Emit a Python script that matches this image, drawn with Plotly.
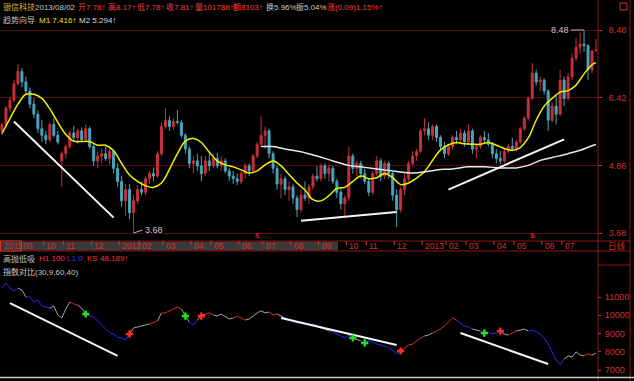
import math
import plotly.graph_objects as go

W, H = 634, 381
def px(x): return x / W
def py(y): return 1 - y / H

# ---------------- data ----------------
opens = [5.60, 5.75, 6.15, 6.35, 6.80, 7.15, 6.85, 6.60, 6.25, 6.00,
         5.65, 5.50, 5.40, 5.75, 5.50, 4.95, 5.10, 5.25, 5.55, 5.45,
         5.60, 5.40, 5.65, 5.25, 4.95, 5.05, 5.10, 5.00, 5.15, 4.80,
         4.55, 4.20, 4.40, 4.00, 4.20, 4.40, 4.35, 4.60, 4.70, 4.65,
         5.10, 5.70, 5.85, 5.70, 5.82, 5.80, 5.50, 5.20, 4.90, 4.95,
         4.85, 4.70, 4.95, 4.85, 5.00, 4.85, 4.95, 4.75, 4.65, 4.60,
         4.55, 4.70, 4.85, 4.75, 5.05, 5.30, 5.50, 5.60, 5.10, 4.80,
         4.50, 4.60, 4.40, 4.45, 4.25, 4.05, 4.30, 4.25, 4.45, 4.65,
         4.60, 4.85, 4.70, 4.80, 4.55, 4.35, 4.15, 4.25, 5.05, 4.80,
         4.90, 4.70, 4.55, 4.35, 4.70, 4.95, 4.65, 4.90, 4.70, 4.30,
         4.05, 4.40, 4.60, 4.90, 5.05, 5.15, 5.60, 5.65, 5.50, 5.70,
         5.45, 5.25, 5.10, 5.25, 5.45, 5.40, 5.55, 5.35, 5.60, 5.20,
         5.25, 5.45, 5.40, 5.30, 5.10, 5.00, 4.95, 5.15, 5.25, 5.20,
         5.35, 5.65, 5.90, 6.40, 7.10, 6.85, 6.90, 6.60, 5.85, 6.20,
         6.00, 6.90, 6.40, 7.00, 7.55, 7.90, 8.00, 7.95, 7.20, 7.78]
highs = [5.80, 6.20, 6.45, 6.90, 7.38, 7.25, 7.00, 6.70, 6.40, 6.10,
         5.85, 5.60, 5.80, 5.90, 5.60, 5.15, 5.30, 5.60, 5.72, 5.65,
         5.68, 5.75, 5.70, 5.30, 5.15, 5.20, 5.25, 5.20, 5.18, 4.90,
         4.65, 4.50, 4.50, 4.30, 4.48, 4.55, 4.65, 4.75, 4.82, 5.15,
         5.80, 6.15, 5.95, 5.90, 6.10, 5.85, 5.55, 5.25, 5.05, 5.10,
         5.05, 5.05, 5.10, 5.10, 5.12, 5.05, 5.00, 4.80, 4.75, 4.70,
         4.75, 4.90, 4.90, 5.10, 5.35, 5.95, 5.70, 5.65, 5.15, 4.85,
         4.70, 4.65, 4.55, 4.50, 4.30, 4.40, 4.55, 4.50, 4.70, 4.85,
         4.90, 4.90, 4.88, 4.85, 4.60, 4.45, 4.30, 5.25, 5.10, 4.95,
         4.95, 4.80, 4.60, 4.75, 5.05, 5.00, 4.95, 4.95, 4.75, 4.40,
         4.45, 4.70, 4.95, 5.15, 5.20, 5.65, 5.90, 5.80, 5.75, 5.75,
         5.50, 5.35, 5.30, 5.50, 5.60, 5.65, 5.62, 5.75, 5.65, 5.30,
         5.50, 5.60, 5.55, 5.35, 5.20, 5.15, 5.20, 5.30, 5.45, 5.40,
         5.70, 5.95, 6.45, 7.40, 7.20, 7.00, 6.95, 6.65, 6.30, 6.50,
         7.20, 7.00, 7.10, 7.70, 8.20, 8.40, 8.48, 8.00, 7.80, 8.17]
lows = [5.50, 5.70, 6.05, 6.30, 6.75, 6.70, 6.50, 6.15, 5.90, 5.55,
        5.35, 5.30, 5.35, 5.45, 5.30, 4.45, 5.00, 5.20, 5.35, 5.30,
        5.35, 5.38, 5.20, 4.85, 4.80, 4.90, 4.95, 4.88, 4.70, 4.45,
        4.10, 3.95, 3.90, 3.68, 4.15, 4.30, 4.30, 4.50, 4.55, 4.62,
        5.05, 5.65, 5.60, 5.62, 5.75, 5.45, 5.10, 4.80, 4.70, 4.75,
        4.55, 4.65, 4.75, 4.80, 4.80, 4.75, 4.70, 4.55, 4.50, 4.48,
        4.50, 4.60, 4.65, 4.72, 5.00, 5.25, 5.20, 5.00, 4.70, 4.40,
        4.25, 4.30, 4.20, 4.15, 3.93, 4.00, 4.20, 4.15, 4.40, 4.55,
        4.55, 4.60, 4.55, 4.50, 4.25, 4.05, 3.95, 4.20, 4.70, 4.65,
        4.60, 4.50, 4.28, 4.30, 4.65, 4.55, 4.60, 4.60, 4.20, 3.77,
        4.00, 4.30, 4.55, 4.85, 4.95, 5.10, 5.50, 5.40, 5.40, 5.35,
        5.15, 5.00, 5.05, 5.20, 5.30, 5.35, 5.25, 5.30, 5.10, 5.00,
        5.20, 5.30, 5.25, 5.00, 4.90, 4.88, 4.90, 5.10, 5.15, 5.15,
        5.30, 5.60, 5.85, 6.35, 6.75, 6.60, 6.50, 5.60, 5.80, 5.75,
        5.95, 6.20, 6.35, 6.90, 7.45, 7.70, 7.75, 6.90, 7.10, 7.78]
closes = [5.75, 6.15, 6.35, 6.80, 7.15, 6.85, 6.60, 6.25, 6.00, 5.65,
          5.50, 5.40, 5.75, 5.50, 5.35, 5.10, 5.25, 5.55, 5.45, 5.60,
          5.40, 5.65, 5.25, 4.95, 5.05, 5.10, 5.00, 5.15, 4.80, 4.55,
          4.20, 4.40, 4.00, 4.20, 4.40, 4.35, 4.60, 4.70, 4.65, 5.10,
          5.70, 5.85, 5.70, 5.82, 5.80, 5.50, 5.20, 4.90, 4.95, 4.85,
          4.70, 4.95, 4.85, 5.00, 4.85, 4.95, 4.75, 4.65, 4.60, 4.55,
          4.70, 4.85, 4.75, 5.05, 5.30, 5.50, 5.60, 5.10, 4.80, 4.50,
          4.60, 4.40, 4.45, 4.25, 4.05, 4.30, 4.25, 4.45, 4.65, 4.60,
          4.85, 4.70, 4.80, 4.55, 4.35, 4.15, 4.25, 5.05, 4.80, 4.90,
          4.70, 4.55, 4.35, 4.70, 4.95, 4.65, 4.90, 4.70, 4.30, 4.05,
          4.40, 4.60, 4.90, 5.05, 5.15, 5.60, 5.65, 5.50, 5.70, 5.45,
          5.25, 5.10, 5.25, 5.45, 5.40, 5.55, 5.35, 5.60, 5.20, 5.25,
          5.45, 5.40, 5.30, 5.10, 5.00, 4.95, 5.15, 5.25, 5.20, 5.35,
          5.65, 5.90, 6.40, 7.10, 6.85, 6.90, 6.60, 5.85, 6.20, 6.00,
          6.90, 6.40, 7.00, 7.55, 7.90, 8.00, 7.95, 7.20, 7.78, 7.81]
bars = list(range(len(closes)))

m1_idx = [0, 2, 4, 6, 8, 10, 12, 14, 16, 18, 20, 22, 24, 26, 28, 30, 32, 34, 36, 38,
          40, 42, 44, 46, 48, 50, 52, 54, 56, 58, 60, 62, 64, 66, 68, 70, 72, 74, 76, 78,
          80, 82, 84, 86, 88, 90, 92, 94, 96, 98, 100, 102, 104, 106, 108, 110, 112, 114,
          116, 118, 120, 122, 124, 126, 128, 130, 132, 134, 136, 138, 140, 142, 144, 146, 148, 149]
m1_val = [5.54, 5.89, 6.25, 6.51, 6.51, 6.40, 6.13, 5.80, 5.52, 5.37, 5.36, 5.36, 5.28, 5.28, 5.16,
          4.90, 4.67, 4.55, 4.47, 4.44, 4.52, 4.78, 5.10, 5.37, 5.43, 5.34, 5.13, 4.95, 4.87, 4.83,
          4.77, 4.71, 4.75, 4.87, 4.95, 4.85, 4.68, 4.52, 4.39, 4.22, 4.20, 4.29, 4.42, 4.44, 4.55,
          4.65, 4.60, 4.62, 4.70, 4.62, 4.49, 4.52, 4.61, 4.74, 4.96, 5.18, 5.29, 5.34, 5.31, 5.30,
          5.30, 5.34, 5.28, 5.21, 5.17, 5.23, 5.44, 5.85, 6.20, 6.40, 6.57, 6.61, 6.76, 7.08, 7.35, 7.416]
m2_idx = [65, 68, 71, 75, 79, 83, 87, 91, 95, 99, 103, 106, 109, 113, 117, 121, 125, 129,
          132, 135, 138, 142, 145, 148, 149]
m2_val = [5.25, 5.25, 5.20, 5.14, 5.05, 4.95, 4.86, 4.82, 4.78, 4.74, 4.71, 4.73, 4.77, 4.79,
          4.83, 4.83, 4.81, 4.81, 4.86, 4.96, 5.02, 5.10, 5.17, 5.27, 5.294]

trend_main = [([3, 28], [5.82, 3.92]), ([75, 99], [3.87, 4.01]), ([112, 141], [4.40, 5.41])]

price_ticks = [3.68, 4.86, 6.42, 8.48]

month_starts = [5, 11, 16, 23, 30, 35, 41, 48, 53, 60, 66, 73, 80, 87, 92, 99, 106, 112, 117,
                124, 129, 136, 141]
month_labels = ["09", "10", "11", "12", "2012", "02", "03", "04", "05", "06", "07", "08",
                "09", "10", "11", "12", "2013", "02", "03", "04", "05", "06", "07"]
event_bars = [64, 133]

lower_vals = [11490, 11765, 11490, 11330, 11490, 11380, 11000, 11000, 10730, 10840,
              10510, 10450, 10400, 10510, 10020, 9850, 10340, 10730, 10620, 10560,
              10400, 10070, 9960, 9910, 9690, 9470, 9250, 9030, 8980, 8810,
              8760, 8650, 8980, 9310, 9360, 9420, 9470, 9530, 9630, 9690,
              10130, 10130, 10240, 10340, 10450, 10340, 9960, 9630, 9470, 9740,
              9960, 10070, 10130, 10020, 9960, 10070, 9910, 9800, 9850, 9960,
              9850, 9740, 9800, 9960, 10130, 10240, 10130, 10180, 10020, 10070,
              9960, 9850, 9800, 9690, 9580, 9630, 9530, 9470, 9530, 9420,
              9310, 9250, 9140, 9090, 8980, 8870, 8760, 8920, 8760, 8700,
              8600, 8490, 8600, 8540, 8430, 8380, 8320, 8210, 8100, 7890,
              8050, 8210, 8380, 8430, 8600, 8760, 8870, 8920, 9030, 9140,
              9250, 9420, 9630, 9850, 9740, 9580, 9420, 9360, 9250, 9200,
              9140, 9030, 9090, 8980, 9030, 9140, 8980, 8920, 9030, 9140,
              9200, 9250, 9140, 9200, 9090, 8980, 8760, 8430, 8000, 7560,
              7290, 7610, 7780, 7720, 8000, 7830, 7780, 7890, 7830, 7940]
lower_runs = [(0, 'b'), (4, 'g'), (6, 'b'), (12, 'g'), (17, 'r'), (19, 'g'), (21, 'b'), (32, 'g'),
              (37, 'r'), (39, 'g'), (40, 'r'), (45, 'g'), (47, 'b'), (49, 'g'), (51, 'r'), (53, 'g'),
              (58, 'r'), (61, 'g'), (67, 'r'), (69, 'g'), (71, 'b'), (80, 'g'), (82, 'b'), (88, 'g'),
              (90, 'b'), (100, 'r'), (106, 'g'), (108, 'r'), (114, 'b'), (118, 'g'), (120, 'b'),
              (125, 'g'), (127, 'r'), (129, 'g'), (132, 'b'), (141, 'g'), (146, 'r'), (148, 'g')]
buy_marks = [21, 46, 88, 91, 121]
sell_marks = [32, 50, 100, 125]
trend_low = [([2, 29], [10670, 7780]), ([70, 99], [9850, 8380]), ([115, 137], [9030, 7340])]
lower_ticks = [7000, 8000, 9000, 10000, 11000]

# ---------------- styling ----------------
F = "Liberation Sans, Noto Sans CJK SC, sans-serif"
RED = "#d23232"
GRID = "#560a0a"
BORDER = "#8c1414"
UP = "#c8303a"
DN = "#48a6ba"
LOWC = {'b': '#2a2aff', 'g': '#a6a6a6', 'r': '#e02828'}

x_dom = [0, px(597)]
xr = [-0.5, 149.25]
ppl = (233 - 30) / (math.log10(8.48) - math.log10(3.68))
main_top, main_bot = 24, 238
y_rng = [math.log10(3.68) - (main_bot - 233) / ppl, math.log10(8.48) + (30 - main_top) / ppl]
low_top, low_bot = 268, 376
lo_rng = [11000 - (low_bot - 297) / 18.3 * 1000, 11000 + (297 - low_top) / 18.3 * 1000]

fig = go.Figure()
fig.add_trace(go.Candlestick(
    x=bars, open=opens, high=highs, low=lows, close=closes,
    increasing=dict(line=dict(color=UP, width=1), fillcolor=UP),
    decreasing=dict(line=dict(color=DN, width=1), fillcolor=DN),
    whiskerwidth=0, showlegend=False, hoverinfo='skip', xaxis='x', yaxis='y'))
fig.add_trace(go.Scatter(x=m1_idx, y=m1_val, mode='lines', line=dict(color='#f0f000', width=1.5, shape='spline'),
                         showlegend=False, hoverinfo='skip', xaxis='x', yaxis='y'))
fig.add_trace(go.Scatter(x=m2_idx, y=m2_val, mode='lines', line=dict(color='#e8e8e8', width=1.5, shape='spline'),
                         showlegend=False, hoverinfo='skip', xaxis='x', yaxis='y'))
for tx, ty in trend_main:
    fig.add_trace(go.Scatter(x=tx, y=ty, mode='lines', line=dict(color='#f4f4f4', width=2),
                             showlegend=False, hoverinfo='skip', xaxis='x', yaxis='y'))

n = len(lower_vals)
for k, (s, c) in enumerate(lower_runs):
    e = lower_runs[k + 1][0] if k + 1 < len(lower_runs) else n - 1
    xs = list(range(s, e + 1))
    fig.add_trace(go.Scatter(x=xs, y=[lower_vals[i] for i in xs], mode='lines',
                             line=dict(color=LOWC[c], width=1), showlegend=False, hoverinfo='skip',
                             xaxis='x2', yaxis='y2'))
for tx, ty in trend_low:
    fig.add_trace(go.Scatter(x=tx, y=ty, mode='lines', line=dict(color='#f4f4f4', width=2),
                             showlegend=False, hoverinfo='skip', xaxis='x2', yaxis='y2'))
fig.add_trace(go.Scatter(x=buy_marks, y=[lower_vals[i] for i in buy_marks], mode='markers',
                         marker=dict(symbol='cross', size=6, color='#22e022', line=dict(width=0)),
                         showlegend=False, hoverinfo='skip', xaxis='x2', yaxis='y2'))
fig.add_trace(go.Scatter(x=sell_marks, y=[lower_vals[i] for i in sell_marks], mode='markers',
                         marker=dict(symbol='cross', size=6, color='#ff2a2a', line=dict(width=0)),
                         showlegend=False, hoverinfo='skip', xaxis='x2', yaxis='y2'))

fig.update_layout(
    width=W, height=H, margin=dict(l=0, r=0, t=0, b=0),
    paper_bgcolor='black', plot_bgcolor='black', showlegend=False,
    font=dict(family=F, size=9, color=RED),
    xaxis=dict(domain=x_dom, range=xr, visible=False, rangeslider=dict(visible=False), anchor='y'),
    yaxis=dict(domain=[py(main_bot), py(main_top)], type='log', range=y_rng, side='right', anchor='x',
               tickvals=price_ticks, ticktext=[f"{v:.2f}" for v in price_ticks],
               showgrid=True, gridcolor=GRID, gridwidth=1, zeroline=False, showline=False,
               ticks='outside', ticklen=4, tickcolor=RED, ticklabelstandoff=5,
               tickfont=dict(family=F, size=9, color=RED)),
    xaxis2=dict(domain=x_dom, range=xr, visible=False, anchor='y2'),
    yaxis2=dict(domain=[py(low_bot), py(low_top)], range=lo_rng, side='right', anchor='x2',
                tickvals=lower_ticks, ticktext=[str(v) for v in lower_ticks],
                showgrid=False, zeroline=False, showline=False,
                ticks='outside', ticklen=3, tickcolor=RED, ticklabelstandoff=2,
                tickfont=dict(family=F, size=9, color=RED)),
)

shapes = []
def pline(x0, y0, x1, y1, color=BORDER, w=1):
    shapes.append(dict(type='line', xref='paper', yref='paper', x0=px(x0), y0=py(y0), x1=px(x1), y1=py(y1),
                       line=dict(color=color, width=w), layer='above'))
shapes.append(dict(type='rect', xref='paper', yref='paper', x0=px(0), x1=px(338), y0=py(250.5), y1=py(241.5),
                   fillcolor='#3a3a3a', line=dict(width=0), layer='below'))
pline(0, 241, 630, 241)
pline(0, 251, 630, 251)
shapes.append(dict(type='rect', xref='paper', yref='paper', x0=px(0.5), x1=px(21.5), y0=py(251), y1=py(241),
                   line=dict(color=RED, width=1), fillcolor='rgba(0,0,0,0)'))
for m in month_starts:
    shapes.append(dict(type='line', xref='x', yref='paper', x0=m - 0.6, x1=m - 0.6, y0=py(241), y1=py(245),
                       line=dict(color=RED, width=1)))
pline(598, 0, 598, 381)
pline(630, 0, 630, 381)
pline(598, 265, 630, 265)
pline(0, 377.5, 634, 377.5, color='#c8c8c8', w=1.5)
shapes.append(dict(type='rect', xref='paper', yref='paper', x0=px(620), x1=px(627), y0=py(10), y1=py(3),
                   line=dict(color=RED, width=1), fillcolor='rgba(0,0,0,0)'))
fig.update_layout(shapes=shapes)

ann = []
def txt(x, y, s, color, size=8):
    ann.append(dict(xref='paper', yref='paper', x=px(x), y=py(y), text=s, showarrow=False,
                    xanchor='left', yanchor='middle', font=dict(family=F, size=size, color=color)))
txt(1, 7, "银信科技", '#e6b422')
txt(33, 7, "2013/08/02", '#c8c8c8')
for x, s in [(76, "开7.78↑"), (106, "高8.17↑"), (135, "低7.78↑"), (164, "收7.81↑"),
             (193, "量101788↑"), (231, "额8103↑")]:
    txt(x, 7, s, '#ff3c3c')
txt(264, 7, "换5.96%", '#c8c8c8')
txt(294, 7, "振5.04%", '#c8c8c8')
txt(325, 7, "涨(0.09)1.15%↑", '#ff3c3c')
txt(1, 20, "趋势向导", '#c0c0c0')
txt(37, 20, "M1 7.416↑", '#e8e800')
txt(77, 20, "M2 5.294↑", '#d8d8d8')
txt(1, 258.5, "高抛低吸", '#c0c0c0')
txt(37, 258.5, "H1 100", '#ff3030')
txt(65, 258.5, "L1 0", '#3a3aff')
txt(85, 258.5, "KS 48.189↑", '#ff3030')
txt(1, 272, "指数对比(30,9,60,40)", '#c8c8c8')
txt(1.5, 246, "2011", RED, 8.5)
txt(606, 246, "日线", RED, 8.5)
for m, lab in zip(month_starts, month_labels):
    ann.append(dict(xref='x', yref='paper', x=m - 0.6, y=py(246), text=lab, showarrow=False, xshift=1,
                    xanchor='left', yanchor='middle', font=dict(family=F, size=8.5, color=RED)))
for b in event_bars:
    ann.append(dict(xref='x', yref='paper', x=b, y=py(235.5), text="$", showarrow=False,
                    xanchor='center', yanchor='middle', font=dict(family=F, size=8, color='#ff2020')))
pk = highs.index(max(highs))
ann.append(dict(xref='x', yref='y', x=pk, y=math.log10(highs[pk]), text=f"{highs[pk]:.2f}", showarrow=True,
                arrowhead=0, arrowwidth=1, arrowcolor='#b8b8c8', ax=-13, ay=0, xanchor='right',
                font=dict(family=F, size=9, color='#c4c4d4')))
lo = lows.index(min(lows))
ann.append(dict(xref='x', yref='y', x=lo, y=math.log10(lows[lo]), text=f"{lows[lo]:.2f}", showarrow=True,
                arrowhead=0, arrowwidth=1, arrowcolor='#b8b8c8', ax=9, ay=-3, xanchor='left',
                font=dict(family=F, size=9, color='#c4c4d4')))
fig.update_layout(annotations=ann)

fig.write_html("out.html")
